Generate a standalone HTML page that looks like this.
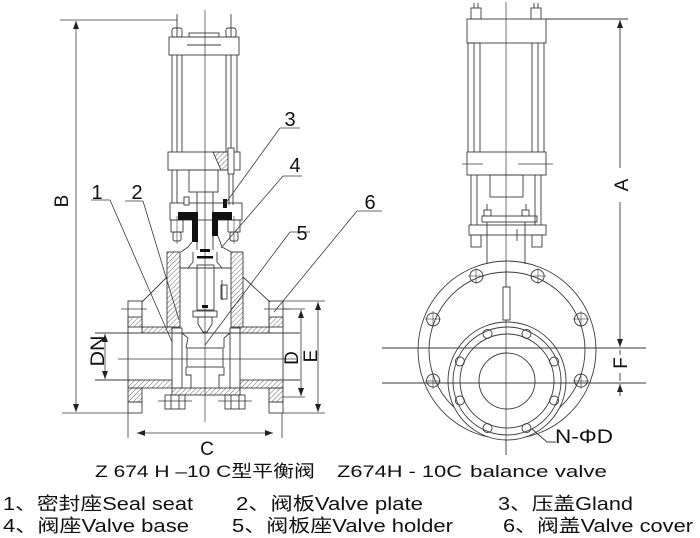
<!DOCTYPE html>
<html><head><meta charset="utf-8"><style>
html,body{margin:0;padding:0;background:#fff;}
svg{display:block;}
text{font-family:"Liberation Sans","Noto Sans CJK SC",sans-serif;fill:#111;}
</style></head><body>
<svg width="700" height="538" viewBox="0 0 700 538" xmlns="http://www.w3.org/2000/svg">
<defs>
<pattern id="h" width="3.5" height="3.5" patternUnits="userSpaceOnUse" patternTransform="rotate(45)">
<line x1="0" y1="0" x2="0" y2="3.5" stroke="#444" stroke-width="0.8"/>
</pattern>
<marker id="ar" viewBox="0 0 8 6" refX="8" refY="3" markerWidth="8" markerHeight="6" markerUnits="userSpaceOnUse" orient="auto-start-reverse">
<path d="M0,0 L8,3 L0,6 z" fill="#222"/>
</marker>
</defs>

<!-- ===== LEFT VIEW ===== -->
<g stroke="#3a3a3a" stroke-width="0.9" fill="none">
<line x1="205" y1="10" x2="205" y2="422" stroke-width="0.7"/>
<!-- actuator top -->
<line x1="177" y1="14" x2="177" y2="37"/><line x1="231" y1="14" x2="231" y2="37"/>
<rect x="172" y="28" width="10" height="9" rx="2"/><rect x="226" y="28" width="10" height="9" rx="2"/>
<rect x="189" y="33" width="30" height="4"/>
<rect x="169" y="37" width="70" height="18"/>
<line x1="187" y1="45" x2="221" y2="45"/>
<line x1="172" y1="55" x2="172" y2="152"/><line x1="177" y1="55" x2="177" y2="152"/><line x1="182" y1="55" x2="182" y2="152"/>
<line x1="226" y1="55" x2="226" y2="152"/><line x1="231" y1="55" x2="231" y2="152"/><line x1="237" y1="55" x2="237" y2="152"/>
<rect x="168" y="152" width="72" height="18"/>
<polygon points="213,152 228,152 228,170 221,170" fill="url(#h)"/>
<rect x="228" y="148" width="6" height="26" fill="#fff"/>
<line x1="229" y1="174" x2="229" y2="205"/><line x1="233" y1="174" x2="233" y2="205"/>
<line x1="172" y1="170" x2="172" y2="203"/><line x1="177" y1="170" x2="177" y2="203"/>
<rect x="189" y="170" width="29" height="22"/>
<line x1="197" y1="192" x2="197" y2="250"/><line x1="213" y1="192" x2="213" y2="250"/>
<!-- bonnet -->
<rect x="170" y="203" width="72" height="17"/>
<rect x="184" y="197" width="5" height="8" fill="#fff"/>
<rect x="171" y="220" width="12" height="12"/><rect x="173" y="232" width="8" height="9" rx="2"/>
<rect x="228" y="220" width="12" height="12"/><rect x="230" y="232" width="8" height="9" rx="2"/>
<line x1="177" y1="216" x2="177" y2="244" stroke-width="0.6"/><line x1="234" y1="216" x2="234" y2="244" stroke-width="0.6"/>
<polyline points="192,242 188,247 181,252"/><polyline points="218,236 222,247 231,252"/>
<!-- body walls -->
<rect x="167" y="252" width="13" height="75" fill="url(#h)"/>
<rect x="231" y="252" width="12" height="75" fill="url(#h)"/>
<line x1="180" y1="268" x2="231" y2="268"/>
<polyline points="193,252 193,262 188,268"/><polyline points="217,252 217,262 222,268"/>
<rect x="197" y="265" width="17" height="45"/>
<rect x="193" y="311" width="24" height="6"/>
<polygon points="198,317 212,317 212,324 207,332 203,332 198,324"/>
<line x1="222" y1="280" x2="222" y2="300"/><rect x="221" y="285" width="6" height="14"/>
<line x1="167" y1="277" x2="142" y2="302"/><line x1="243" y1="277" x2="270" y2="302"/>
<!-- upper flanges -->
<rect x="128" y="301" width="14" height="32"/>
<rect x="128" y="317" width="14" height="10" fill="url(#h)"/>
<line x1="121" y1="309" x2="147" y2="309" stroke-width="0.7"/>
<rect x="269" y="301" width="14" height="32"/>
<rect x="269" y="317" width="14" height="10" fill="url(#h)"/>
<line x1="264" y1="309" x2="290" y2="309" stroke-width="0.7"/>
<line x1="142" y1="301" x2="142" y2="327"/>
<rect x="142" y="327" width="30" height="6" fill="url(#h)"/>
<rect x="240" y="327" width="29" height="6" fill="url(#h)"/>
<!-- seat rings -->
<rect x="172" y="328" width="10" height="60"/>
<rect x="230" y="328" width="10" height="60"/>
<polyline points="182,333 188,338 186,348"/><polyline points="230,333 224,338 224,348"/>
<rect x="187" y="348" width="36" height="19"/>
<polyline points="186,367 186,375 191,375 191,388"/><polyline points="224,367 224,375 219,375 219,388"/>
<!-- pipe lines -->
<line x1="95" y1="333" x2="300" y2="333"/>
<line x1="95" y1="380" x2="142" y2="380"/><line x1="269" y1="380" x2="300" y2="380"/>
<line x1="118" y1="359" x2="296" y2="359" stroke-width="0.7"/>
<line x1="128" y1="333" x2="128" y2="380"/><line x1="283" y1="333" x2="283" y2="380"/>
<!-- lower flanges -->
<rect x="128" y="380" width="44" height="8" fill="url(#h)"/>
<rect x="240" y="380" width="43" height="8" fill="url(#h)"/>
<rect x="128" y="388" width="14" height="14" fill="url(#h)"/>
<rect x="269" y="388" width="14" height="14" fill="url(#h)"/>
<rect x="128" y="402" width="14" height="11"/><rect x="269" y="402" width="14" height="11"/>
<rect x="172" y="388" width="68" height="7" fill="url(#h)"/>
<rect x="165" y="395" width="20" height="14"/><line x1="171" y1="395" x2="171" y2="409"/><line x1="179" y1="395" x2="179" y2="409"/>
<line x1="158" y1="401" x2="192" y2="401" stroke-width="0.7"/>
<rect x="225" y="395" width="20" height="14"/><line x1="231" y1="395" x2="231" y2="409"/><line x1="239" y1="395" x2="239" y2="409"/>
<line x1="218" y1="401" x2="252" y2="401" stroke-width="0.7"/>
</g>
<!-- black parts -->
<g fill="#111">
<polygon points="178,212 198,212 198,242 192,242 192,220 178,220"/>
<polygon points="212,212 232,212 232,220 218,220 218,236 212,236"/>
<rect x="223" y="199" width="4" height="9"/>
<rect x="200" y="249" width="10" height="3"/>
<rect x="197" y="256" width="16" height="2.5"/>
<rect x="202" y="305" width="6" height="3"/>
</g>
<!-- dimensions left -->
<g stroke="#3a3a3a" stroke-width="0.8" fill="none">
<line x1="60" y1="20" x2="177" y2="20"/>
<line x1="62" y1="413" x2="128" y2="413"/>
<line x1="76" y1="21" x2="76" y2="412" marker-start="url(#ar)" marker-end="url(#ar)"/>
<line x1="105" y1="334" x2="105" y2="379" marker-start="url(#ar)" marker-end="url(#ar)"/>
<line x1="283" y1="309" x2="305" y2="309"/><line x1="283" y1="397" x2="305" y2="397"/>
<line x1="301" y1="310" x2="301" y2="396" marker-start="url(#ar)" marker-end="url(#ar)"/>
<line x1="283" y1="301" x2="325" y2="301"/><line x1="283" y1="413" x2="325" y2="413"/>
<line x1="318" y1="302" x2="318" y2="412" marker-start="url(#ar)" marker-end="url(#ar)"/>
<line x1="128" y1="413" x2="128" y2="438"/><line x1="282" y1="413" x2="282" y2="438"/>
<line x1="137" y1="433" x2="273" y2="433" marker-start="url(#ar)" marker-end="url(#ar)"/>
<!-- leaders -->
<line x1="91" y1="200" x2="110" y2="200"/><line x1="110" y1="200" x2="172" y2="342"/>
<line x1="125" y1="201" x2="143" y2="201"/><line x1="143" y1="201" x2="179" y2="320"/>
<line x1="280" y1="128" x2="300" y2="128"/><line x1="280" y1="128" x2="225" y2="204"/>
<line x1="283" y1="176" x2="302" y2="176"/><line x1="283" y1="176" x2="221" y2="248"/>
<line x1="290" y1="232" x2="310" y2="232"/><line x1="290" y1="232" x2="205" y2="345"/>
<line x1="357" y1="211" x2="382" y2="211"/><line x1="357" y1="211" x2="274" y2="312"/>
</g>
<g font-size="20">
<text x="97" y="199" text-anchor="middle">1</text>
<text x="137" y="199" text-anchor="middle">2</text>
<text x="290" y="126" text-anchor="middle">3</text>
<text x="295" y="172" text-anchor="middle">4</text>
<text x="302" y="240" text-anchor="middle">5</text>
<text x="370" y="209" text-anchor="middle">6</text>
</g>
<g font-size="19">
<text transform="translate(68,201) rotate(-90)" text-anchor="middle">B</text>
<text transform="translate(104,351) rotate(-90)" text-anchor="middle" textLength="31" lengthAdjust="spacingAndGlyphs">DN</text>
<text transform="translate(298,358) rotate(-90)" text-anchor="middle">D</text>
<text transform="translate(317,356) rotate(-90)" text-anchor="middle">E</text>
<text x="207" y="455" text-anchor="middle">C</text>
<text transform="translate(628,185) rotate(-90)" text-anchor="middle">A</text>
<text transform="translate(627,363) rotate(-90)" text-anchor="middle">F</text>
</g>

<!-- ===== RIGHT VIEW ===== -->
<g stroke="#3a3a3a" stroke-width="0.9" fill="none">
<line x1="506" y1="2" x2="506" y2="455" stroke-width="0.7"/>
<line x1="474" y1="3" x2="474" y2="8"/><line x1="478" y1="3" x2="478" y2="8"/>
<line x1="534" y1="3" x2="534" y2="8"/><line x1="538" y1="3" x2="538" y2="8"/>
<rect x="471" y="8" width="10" height="11"/><rect x="531" y="8" width="10" height="11"/>
<rect x="467" y="19" width="79" height="24"/>
<line x1="468" y1="43" x2="468" y2="152"/><line x1="474" y1="43" x2="474" y2="152"/><line x1="480" y1="43" x2="480" y2="152"/>
<line x1="532" y1="43" x2="532" y2="152"/><line x1="538" y1="43" x2="538" y2="152"/><line x1="544" y1="43" x2="544" y2="152"/>
<line x1="468" y1="43" x2="480" y2="43"/>
<rect x="467" y="152" width="79" height="23"/>
<line x1="462" y1="164" x2="483" y2="164" stroke-width="0.7"/><line x1="518" y1="164" x2="553" y2="164" stroke-width="0.7"/>
<line x1="471" y1="175" x2="471" y2="225"/><line x1="477" y1="175" x2="477" y2="225"/>
<line x1="535" y1="175" x2="535" y2="225"/><line x1="541" y1="175" x2="541" y2="225"/>
<rect x="490" y="175" width="33" height="22"/>
<line x1="487" y1="204" x2="487" y2="210"/><line x1="526" y1="204" x2="526" y2="210"/>
<rect x="484" y="210" width="7" height="6"/><rect x="522" y="210" width="7" height="6"/>
<rect x="482" y="216" width="55" height="6"/>
<rect x="469" y="225" width="77" height="10"/>
<line x1="517" y1="229" x2="517" y2="241"/>
<rect x="471" y="235" width="10" height="12"/><rect x="532" y="235" width="10" height="12"/>
<line x1="487" y1="222" x2="487" y2="264"/><line x1="525" y1="222" x2="525" y2="264"/>
<!-- flange circles -->
<circle cx="507" cy="350" r="89"/>
<circle cx="507" cy="350" r="78"/>
<g>
<circle cx="537.6" cy="276.1" r="6.5"/><circle cx="580.9" cy="319.4" r="6.5"/><circle cx="580.9" cy="380.6" r="6.5"/>
<circle cx="433.1" cy="380.6" r="6.5"/><circle cx="433.1" cy="319.4" r="6.5"/><circle cx="476.4" cy="276.1" r="6.5"/>
</g>
<g stroke-width="0.6">
<line x1="530" y1="276" x2="546" y2="276"/><line x1="538" y1="268" x2="538" y2="284"/>
<line x1="573" y1="319" x2="589" y2="319"/><line x1="581" y1="311" x2="581" y2="327"/>
<line x1="573" y1="381" x2="589" y2="381"/><line x1="581" y1="373" x2="581" y2="389"/>
<line x1="425" y1="381" x2="441" y2="381"/><line x1="433" y1="373" x2="433" y2="389"/>
<line x1="425" y1="319" x2="441" y2="319"/><line x1="433" y1="311" x2="433" y2="327"/>
<line x1="468" y1="276" x2="484" y2="276"/><line x1="476" y1="268" x2="476" y2="284"/>
</g>
<circle cx="507" cy="381" r="59" fill="#fff"/>
<circle cx="507" cy="381" r="54"/>
<circle cx="507" cy="381" r="47"/>
<circle cx="507" cy="381" r="28"/>
<g>
<circle cx="487.5" cy="333.9" r="4.5"/><circle cx="526.5" cy="333.9" r="4.5"/>
<circle cx="554.1" cy="361.5" r="4.5"/><circle cx="554.1" cy="400.5" r="4.5"/>
<circle cx="459.9" cy="361.5" r="4.5"/><circle cx="459.9" cy="400.5" r="4.5"/>
<circle cx="487.5" cy="428.1" r="4.5"/><circle cx="526.5" cy="428.1" r="4.5"/>
</g>
<line x1="506" y1="270" x2="506" y2="455" stroke-width="0.7"/>
<rect x="503" y="287" width="7" height="33" fill="#fff"/>
<line x1="382" y1="348" x2="646" y2="348"/>
<line x1="382" y1="383" x2="646" y2="383"/>
<!-- A / F dims -->
<line x1="546" y1="19" x2="628" y2="19"/>
<line x1="620" y1="168" x2="620" y2="20" marker-end="url(#ar)"/>
<line x1="620" y1="202" x2="620" y2="334"/>
<line x1="620" y1="334" x2="620" y2="347" marker-end="url(#ar)"/>
<line x1="620" y1="396" x2="620" y2="384" marker-end="url(#ar)"/>
<line x1="620" y1="350" x2="620" y2="355"/><line x1="620" y1="373" x2="620" y2="381"/>
<polyline points="532,429 547,442 556,442"/>
</g>
<text x="555" y="443" font-size="19" textLength="58" lengthAdjust="spacingAndGlyphs">N-ΦD</text>

<!-- ===== TEXT ===== -->
<g font-size="17">
<text x="95" y="477" textLength="220" lengthAdjust="spacingAndGlyphs">Z 674 H –10 C型平衡阀</text>
<text x="337" y="477" textLength="125" lengthAdjust="spacingAndGlyphs">Z674H - 10C</text>
<text x="470" y="477" textLength="137" lengthAdjust="spacingAndGlyphs">balance valve</text>
</g>
<g font-size="18">
<text x="3" y="510" textLength="190" lengthAdjust="spacingAndGlyphs">1、密封座Seal seat</text>
<text x="236" y="510" textLength="187" lengthAdjust="spacingAndGlyphs">2、阀板Valve plate</text>
<text x="498" y="510" textLength="135" lengthAdjust="spacingAndGlyphs">3、压盖Gland</text>
<text x="3" y="532" textLength="186" lengthAdjust="spacingAndGlyphs">4、阀座Valve base</text>
<text x="232" y="532" textLength="221" lengthAdjust="spacingAndGlyphs">5、阀板座Valve holder</text>
<text x="503" y="532" textLength="190" lengthAdjust="spacingAndGlyphs">6、阀盖Valve cover</text>
</g>
</svg>
</body></html>
